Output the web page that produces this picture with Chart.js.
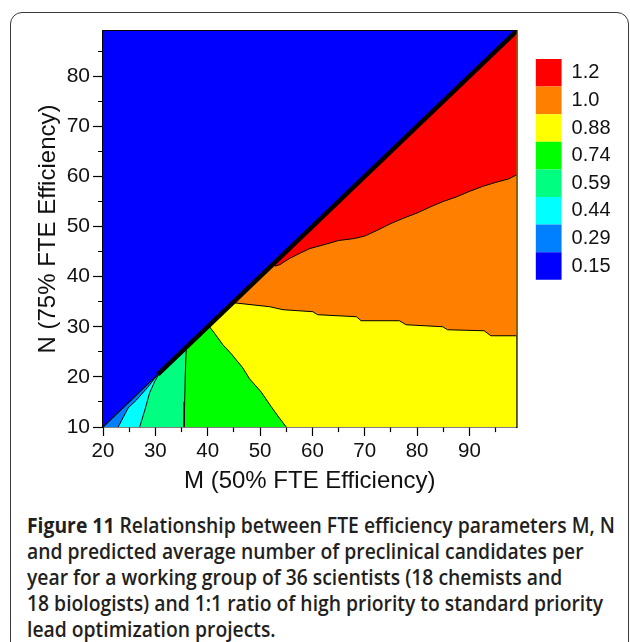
<!DOCTYPE html>
<html>
<head>
<meta charset="utf-8">
<title>FTE efficiency contour</title>
<script src="https://cdn.jsdelivr.net/npm/chart.js@4.4.0/dist/chart.umd.min.js"></script>
<style>
  html, body { margin: 0; padding: 0; background: #fff; }
  body { width: 630px; height: 642px; overflow: hidden; position: relative; }
  #frame { position: absolute; left: 10px; top: 12px; width: 619px; height: 700px;
           border: 1.6px solid #3a3a3a; border-radius: 12px; box-sizing: border-box; }
  #wrap { position: absolute; left: 0; top: 0; width: 630px; height: 500px; }
  #caption { position: absolute; left: 27px; top: 512px; font-family: "Open Sans", sans-serif;
             font-size: 21px; font-weight: 600; line-height: 26px; color: #231f20; white-space: nowrap;
             transform-origin: 0 0; }
  #caption b { font-weight: 700; }
</style>
</head>
<body>
<div id="frame"></div>
<div id="wrap"><canvas id="contour" width="630" height="500"></canvas></div>
<div id="caption">
  <div class="ln" id="firstLine"><b>Figure 11</b> Relationship between FTE efficiency parameters M, N</div>
  <div class="ln">and predicted average number of preclinical candidates per</div>
  <div class="ln">year for a working group of 36 scientists (18 chemists and</div>
  <div class="ln">18 biologists) and 1:1 ratio of high priority to standard priority</div>
  <div class="ln">lead optimization projects.</div>
</div>
<script>
// contour levels, listed top to bottom as in the colour key
const levelLabels = ['1.2', '1.0', '0.88', '0.74', '0.59', '0.44', '0.29', '0.15'];
const levelColors = ['#ff0000', '#ff8000', '#ffff00', '#00ff00', '#00ff80', '#00ffff', '#0080ff', '#0000ff'];

// axis ranges (M = 50% FTE, N = 75% FTE)
const mRange = [20, 99];
const nRange = [10, 89];

// contour boundaries as [M, N] pairs, starting on the N = M - 10 edge
const edgeRedOrange = [[52.8, 42.8], [52.9, 42.1], [53.8, 42.4], [55.6, 43.6], [57.5, 44.6], [59.5, 45.6],
  [62, 46.3], [65, 47.2], [68, 47.6], [70, 48.1], [72.5, 49.3], [75, 50.6], [77.5, 51.7], [80, 52.7],
  [82.5, 53.9], [85, 55.0], [87.5, 55.9], [90, 57.0], [92.5, 58.0], [95, 58.8], [97.5, 59.5], [99, 60.3]];
const edgeOrangeYellow = [[44.8, 34.8], [51.8, 34.0], [54.4, 33.4], [60.1, 33.0], [61.0, 32.4], [68.4, 32.0],
  [69.3, 31.2], [76.6, 31.2], [77.9, 30.4], [84.9, 30.0], [85.8, 29.4], [92.8, 29.2], [94.1, 28.2], [99, 28.2]];
const edgeYellowGreen = [[40.2, 30.2], [41.3, 28.7], [42.9, 26.4], [44.5, 24.6], [46.7, 21.8], [48.0, 19.6],
  [50.2, 17.0], [52.1, 14.1], [53.4, 12.2], [55, 10]];
const edgeGreenSpring = [[35.9, 25.9], [35.7, 20], [35.6, 15], [35.5, 10]];
const edgeSpringCyan = [[30.8, 20.8], [29.9, 19.1], [28.9, 16.8], [28.0, 13.4], [27.0, 10]];
const edgeCyanAzure = [[30.5, 20.5], [28.6, 18.0], [26.4, 15.4], [24.8, 13.8], [23.8, 11.8], [22.9, 10]];

// corners of the plotted triangle halves
const upperLeft = [[20, 10], [99, 89], [20, 89]];
const lowerRight = [[20, 10], [99, 10], [99, 89]];
const diagThin = [[20, 10], [30.5, 20.5]];
const diagThick = [[30.5, 20.5], [99, 89]];

const FONT = '"Liberation Sans", Arial, sans-serif';
Chart.defaults.font.family = FONT;
Chart.defaults.color = '#111';

const pt = p => ({x: p[0], y: p[1]});

// filled area, painted in order (higher order = painted earlier)
function region(points, color, order) {
  return {
    data: points.map(pt), backgroundColor: color, borderColor: color, borderWidth: 0,
    fill: 'shape', pointRadius: 0, tension: 0, order: order
  };
}
function contourLine(points, width) {
  return {
    data: points.map(pt), borderColor: '#000', borderWidth: width,
    fill: false, pointRadius: 0, tension: 0, order: 0
  };
}

const datasets = [
  region(upperLeft, levelColors[7], 20),
  region(lowerRight, levelColors[2], 19),
  region(edgeOrangeYellow.concat([[99, 89]]), levelColors[1], 18),
  region(edgeRedOrange.concat([[99, 89]]), levelColors[0], 17),
  region(edgeYellowGreen.concat([[20, 10]]), levelColors[3], 16),
  region(edgeGreenSpring.concat([[20, 10]]), levelColors[4], 15),
  region(edgeSpringCyan.concat([[20, 10]]), levelColors[5], 14),
  region(edgeCyanAzure.concat([[20, 10]]), levelColors[6], 13),
  contourLine(edgeRedOrange, 1),
  contourLine(edgeOrangeYellow, 1),
  contourLine(edgeYellowGreen, 1),
  contourLine(edgeGreenSpring, 1),
  contourLine(edgeSpringCyan, 1),
  contourLine(edgeCyanAzure, 1),
  contourLine(diagThin, 1.2),
  contourLine(diagThick, 4.5)
];

const tickLabel = v => (v % 10 === 0 ? v : '');

new Chart(document.getElementById('contour'), {
  type: 'line',
  data: {datasets: datasets},
  options: {
    responsive: false,
    animation: false,
    events: [],
    layout: {padding: {left: 12, right: 9.5, top: 0, bottom: 0}},
    plugins: {
      tooltip: {enabled: false},
      legend: {
        position: 'right',
        align: 'start',
        fullSize: false,
        onClick: () => {},
        title: {display: true, text: '', font: {size: 10, lineHeight: 1}, padding: {top: 18, bottom: 0}},
        labels: {
          boxWidth: 26,
          boxHeight: 27.6,
          padding: 0,
          color: '#111',
          font: {size: 20},
          generateLabels: () => levelLabels.map((t, i) => ({
            text: t, fillStyle: levelColors[i], strokeStyle: levelColors[i], lineWidth: 0, hidden: false
          }))
        }
      }
    },
    scales: {
      x: {
        type: 'linear', position: 'bottom', min: mRange[0], max: mRange[1],
        ticks: {stepSize: 5, includeBounds: false, autoSkip: false, maxRotation: 0, padding: 3,
                font: {size: 20.5}, callback: tickLabel},
        grid: {drawOnChartArea: false, tickLength: 9, tickColor: '#000', tickWidth: 1.2,
               tickBorderDash: c => (c.tick && c.tick.value % 10 ? [4.5, 20] : [])},
        border: {display: true, color: '#000', width: 1.6},
        title: {display: true, text: 'M (50% FTE Efficiency)', font: {size: 24}, padding: {top: 0, bottom: 4.6}},
        afterFit: s => { s.height = 73; }
      },
      y: {
        type: 'linear', position: 'left', min: nRange[0], max: nRange[1],
        ticks: {stepSize: 5, includeBounds: false, autoSkip: false, padding: 3,
                font: {size: 21}, callback: tickLabel},
        grid: {drawOnChartArea: false, tickLength: 10, tickColor: '#000', tickWidth: 1.2,
               tickBorderDash: c => (c.tick && c.tick.value % 10 ? [0, 5, 5, 20] : [])},
        border: {display: true, color: '#000', width: 1.6},
        title: {display: true, text: 'N (75% FTE Efficiency)', font: {size: 24}, padding: {top: 22, bottom: 0}},
        afterFit: s => { s.width = 91; }
      },
      x2: {
        type: 'linear', position: 'top', min: mRange[0], max: mRange[1],
        ticks: {display: false}, grid: {display: false},
        border: {display: true, color: '#000', width: 1.6},
        afterFit: s => { s.height = 31; }
      },
      y2: {
        type: 'linear', position: 'right', min: nRange[0], max: nRange[1],
        ticks: {display: false}, grid: {display: false},
        border: {display: true, color: '#000', width: 1.6},
        afterFit: s => { s.width = 19; }
      }
    }
  }
});

// squeeze the caption to the column width
const cap = document.getElementById('caption');
const w = document.getElementById('firstLine').scrollWidth;
cap.style.transform = 'scaleX(' + (588 / w) + ')';
</script>
</body>
</html>
